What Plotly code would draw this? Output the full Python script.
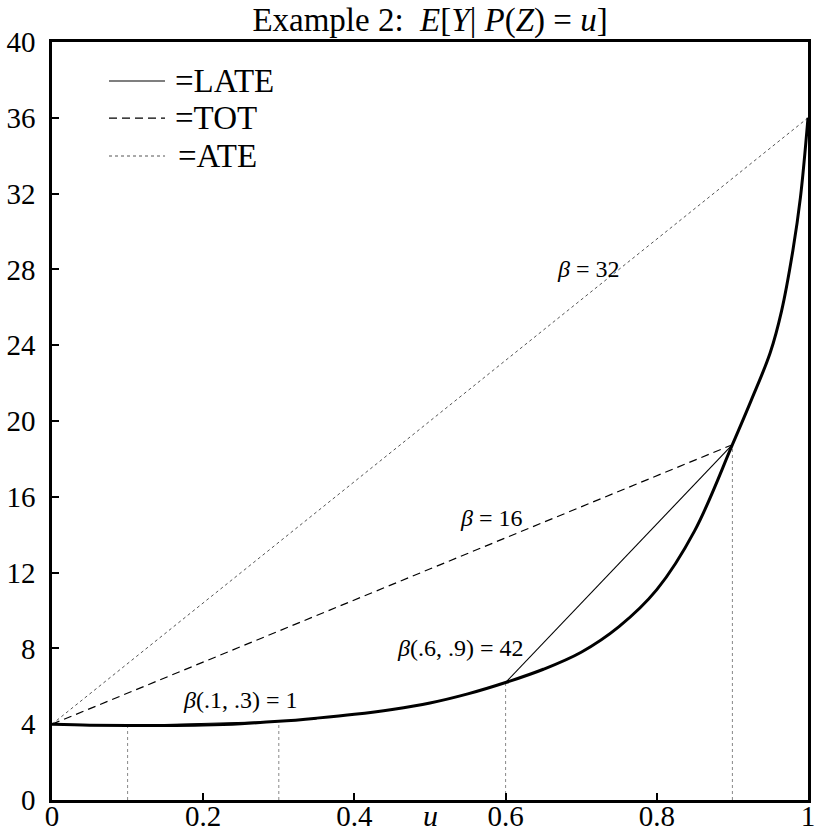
import plotly.graph_objects as go

# E[Y | P(Z) = u]
u_vals = [0.0, 0.05, 0.1, 0.15, 0.2, 0.25, 0.3, 0.35, 0.4, 0.45, 0.5, 0.55, 0.6,
          0.65, 0.7, 0.75, 0.8, 0.85, 0.9, 0.925, 0.95, 0.965, 0.98, 0.99, 1.0]
e_vals = [4.0, 3.95, 3.93, 3.93, 3.96, 4.03, 4.15, 4.32, 4.52, 4.78, 5.12, 5.6, 6.2,
          6.9, 7.8, 9.15, 11.1, 14.2, 18.75, 21.1, 23.6, 25.8, 29.0, 31.8, 36.0]

late_intervals = [(0.1, 0.3), (0.6, 0.9)]
tot_interval = (0.0, 0.9)
ate_interval = (0.0, 1.0)
vertical_marks = [0.1, 0.3, 0.6, 0.9]

labels = [
    (0.249, 5.3, "<i>β</i>(.1, .3) = 1"),
    (0.54, 8.0, "<i>β</i>(.6, .9) = 42"),
    (0.582, 14.9, "<i>β</i> = 16"),
    (0.709, 28.0, "<i>β</i> = 32"),
]
legend_names = ["=LATE", "=TOT", "=ATE"]

x_ticks = [0, 0.2, 0.4, 0.6, 0.8, 1]
x_ticktext = ["0", "0.2", "0.4", "0.6", "0.8", "1"]
y_ticks = list(range(0, 41, 4))


def ev(x):
    return e_vals[u_vals.index(x)]


FONT = "Liberation Serif"
LATE_STYLE = dict(color="black", width=1.1)
TOT_STYLE = dict(color="black", width=1.2, dash="8px,5px")
ATE_STYLE = dict(color="#555555", width=1, dash="dot")

fig = go.Figure()

# vertical dotted marks
for xm in vertical_marks:
    fig.add_trace(go.Scatter(x=[xm, xm], y=[0, ev(xm)], mode="lines",
                             line=dict(color="#888888", width=1, dash="dot"),
                             showlegend=False, hoverinfo="skip"))

# LATE chords
for a, b in late_intervals:
    fig.add_trace(go.Scatter(x=[a, b], y=[ev(a), ev(b)], mode="lines",
                             line=LATE_STYLE, name="LATE", showlegend=False))

# TOT
a, b = tot_interval
fig.add_trace(go.Scatter(x=[a, b], y=[ev(a), ev(b)], mode="lines",
                         line=TOT_STYLE, name="TOT", showlegend=False))

# ATE
a, b = ate_interval
fig.add_trace(go.Scatter(x=[a, b], y=[ev(a), ev(b)], mode="lines",
                         line=ATE_STYLE, name="ATE", showlegend=False))

# main curve
fig.add_trace(go.Scatter(x=u_vals, y=e_vals, mode="lines",
                         line=dict(color="black", width=3, shape="spline", smoothing=1.0),
                         showlegend=False, name="E[Y|P(Z)=u]"))

for x, y, t in labels:
    fig.add_annotation(x=x, y=y, text=t, showarrow=False,
                       font=dict(family=FONT, size=24, color="black"))

# manual legend (inside top-left)
leg_styles = [LATE_STYLE, TOT_STYLE, ATE_STYLE]
leg_y = [0.9485, 0.8997, 0.8496]
leg_text_x = [0.160, 0.160, 0.164]
for name, st, yy, tx in zip(legend_names, leg_styles, leg_y, leg_text_x):
    fig.add_shape(type="line", xref="paper", yref="paper", x0=0.0754, x1=0.1495,
                  y0=yy, y1=yy, line=st)
    fig.add_annotation(xref="paper", yref="paper", x=tx, y=yy, text=name,
                       xanchor="left", yanchor="middle", showarrow=False,
                       font=dict(family=FONT, size=33, color="black"))

# x-axis label u
fig.add_annotation(x=0.5, y=0, yref="y", xref="x", text="<i>u</i>", showarrow=False,
                   yshift=-15, font=dict(family=FONT, size=30, color="black"))

fig.update_layout(
    width=815, height=832,
    margin=dict(l=52, r=7, t=42, b=32),
    paper_bgcolor="white", plot_bgcolor="white",
    title=dict(text="Example 2:  <i>E</i>[<i>Y</i>| <i>P</i>(<i>Z</i>) = <i>u</i>]",
               x=0.5, xref="paper", xanchor="center", y=0.977, yanchor="middle",
               font=dict(family=FONT, size=33, color="black")),
    showlegend=False,
    font=dict(family=FONT, size=30, color="black"),
)
fig.update_xaxes(range=[0, 1], tickvals=x_ticks, ticktext=x_ticktext, automargin=False,
                 showgrid=False, zeroline=False, showline=True, linecolor="black",
                 linewidth=2.5, mirror=True, ticks="inside", ticklen=7, tickwidth=2,
                 tickcolor="black", tickfont=dict(family=FONT, size=29),
                 ticklabelstandoff=-12, ticklabeloverflow="allow")
fig.update_yaxes(range=[0, 40], tickvals=y_ticks, automargin=False,
                 showgrid=False, zeroline=False, showline=True, linecolor="black",
                 linewidth=2.5, mirror=True, ticks="inside", ticklen=7, tickwidth=2,
                 tickcolor="black", tickfont=dict(family=FONT, size=29),
                 ticklabelstandoff=8, ticklabeloverflow="allow")

fig.write_html("out.html", config={"displayModeBar": False},
               post_script="document.body.style.margin='0px';document.body.style.overflow='hidden';")
